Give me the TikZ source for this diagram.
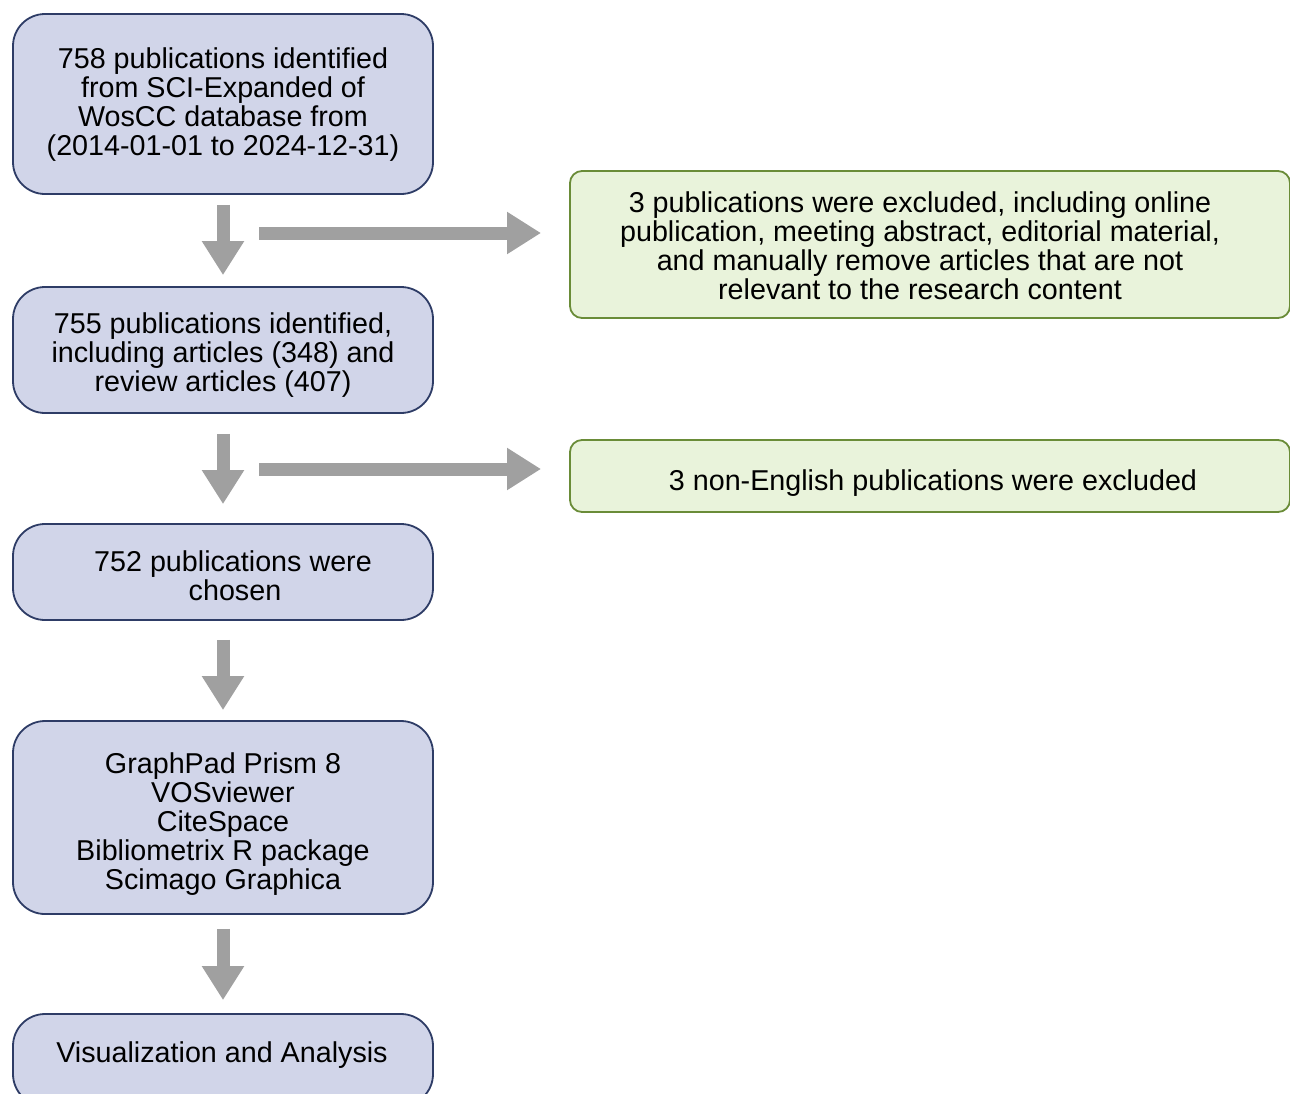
\documentclass[tikz,border=0pt]{standalone}
\usepackage{fontspec}
\setmainfont{Liberation Sans}
\usetikzlibrary{arrows.meta}
\definecolor{bluefill}{RGB}{209,213,233}
\definecolor{blueline}{RGB}{46,60,102}
\definecolor{greenfill}{RGB}{233,243,219}
\definecolor{greenline}{RGB}{106,140,56}
\definecolor{arrowgray}{RGB}{160,160,160}
\begin{document}
\begin{tikzpicture}[x=1pt,y=-1pt,
  bluebox/.style={draw=blueline,line width=1.8pt,fill=bluefill,rounded corners=32pt,
    minimum width=420pt,inner sep=0pt},
  greenbox/.style={draw=greenline,line width=1.8pt,fill=greenfill,rounded corners=12pt,
    minimum width=720pt,inner sep=0pt},
  txt/.style={inner sep=0pt,align=center,font=\fontsize{28.7}{29}\selectfont},
  bigarrow/.style={draw=arrowgray,line width=13pt,-{Triangle[width=40pt,length=34pt]},arrowgray}
]
\useasboundingbox (0,0) rectangle (1290,1093);
\fill[white] (0,0) rectangle (1290,1093);

\node[bluebox,minimum height=180pt] (b1) at (223,104) {};
\node[txt] (b1t) at (223,104.5)
  {758 publications identified\\from SCI-Expanded of\\WosCC database from\\(2014-01-01 to 2024-12-31)};
\node[bluebox,minimum height=126pt] (b2) at (223,350) {};
\node[txt] (b2t) at (223,355.5)
  {755 publications identified,\\including articles (348) and\\review articles (407)};
\node[bluebox,minimum height=96pt] (b3) at (223,572) {};
\node[txt] (b3t) at (233,575.5) {752 publications were\\\hspace*{4pt}chosen};
\node[bluebox,minimum height=193pt] (b4) at (223,817.5) {};
\node[txt] (b4t) at (223,824)
  {GraphPad Prism 8\\VOSviewer\\CiteSpace\\Bibliometrix R package\\Scimago Graphica};
\node[bluebox,minimum height=92pt] (b5) at (223,1060) {};
\node[txt] (b5t) at (222,1055) {Visualization and Analysis};

\node[greenbox,minimum height=147pt] (g1) at (930,244.5) {};
\node[txt] (g1t) at (920,245.5) {3 publications were excluded, including online\\publication, meeting abstract, editorial material,\\and manually remove articles that are not\\relevant to the research content};
\node[greenbox,minimum height=72pt] (g2) at (930,476) {};
\node[txt] (g2t) at (933,483) {3 non-English publications were excluded};

% vertical arrows
\draw[bigarrow] ([yshift=-10pt]b1.south) -- ([yshift=11pt]b2.north);
\draw[bigarrow] ([yshift=-20pt]b2.south) -- ([yshift=19pt]b3.north);
\draw[bigarrow] ([yshift=-19pt]b3.south) -- ([yshift=10pt]b4.north);
\draw[bigarrow] ([yshift=-14pt]b4.south) -- ([yshift=13pt]b5.north);

% horizontal arrows
\coordinate (h1s) at (259,233);
\coordinate (h1e) at (541,233);
\coordinate (h2s) at (259,469);
\coordinate (h2e) at (541,469);
\draw[bigarrow] (h1s) -- (h1e);
\draw[bigarrow] (h2s) -- (h2e);
\end{tikzpicture}
\end{document}
